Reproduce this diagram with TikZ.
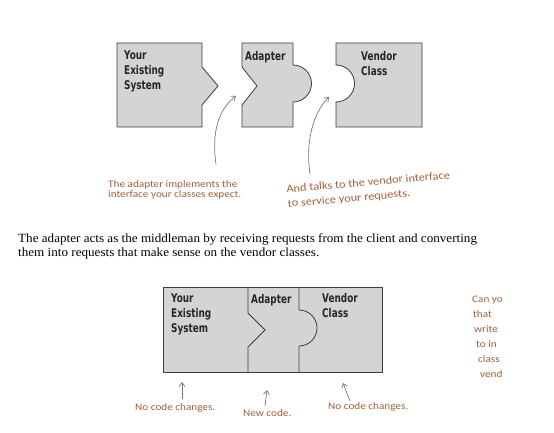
\documentclass[tikz,border=0pt]{standalone}
\usepackage{fontspec}
\setmainfont{Liberation Serif}
\newfontfamily\parafont[FakeStretch=1.05]{Liberation Serif}
\newfontfamily\boxfont[FakeStretch=0.74]{DejaVu Sans Bold}
\newfontfamily\handfont[FakeStretch=1.12]{Carlito}
\usetikzlibrary{arrows.meta}

\definecolor{boxgray}{RGB}{212,212,212}
\definecolor{edgegray}{RGB}{60,60,60}
\definecolor{handbrown}{RGB}{165,95,55}
\definecolor{arrowgray}{RGB}{120,120,120}

\tikzset{
  piece/.style={fill=boxgray, draw=edgegray, line width=0.8pt},
  divider/.style={draw=edgegray, line width=0.8pt},
  boxlabel/.style={anchor=north west, inner sep=0pt, align=left, text=black!85,
    font=\boxfont\fontsize{12}{15}\selectfont},
  note/.style={inner sep=0pt, align=left, text=handbrown,
    font=\handfont\fontsize{10}{10.5}\selectfont},
  pointer/.style={draw=arrowgray, line width=0.7pt, -{Straight Barb[length=4pt,width=6pt]}},
}

\begin{document}
\begin{tikzpicture}[x=1pt, y=-1pt]
\useasboundingbox (0,0) rectangle (554,433);

% --- oben: drei getrennte Teile ---
\filldraw[piece] (117,43) -- (202,43) -- (202,67) -- (218,86) -- (202,105)
  -- (202,127) -- (117,127) -- cycle;
\filldraw[piece] (242,43) -- (293,43) -- (293,65) arc[start angle=-90, end angle=90, radius=18.5]
  -- (293,127) -- (242,127) -- (242,105) -- (257,86) -- (242,67) -- cycle;
\filldraw[piece] (336,43) -- (422,43) -- (422,127) -- (336,127) -- (336,102)
  arc[start angle=90, end angle=-90, radius=18.5] -- cycle;

\node[boxlabel] (system) at (124,51) {Your\\Existing\\System};
\node[boxlabel] (adapter) at (245,51) {Adapter};
\node[boxlabel] (vendor) at (361,51) {Vendor\\Class};

% Hinweise mit Pfeilen
\node[note, anchor=north west] (implnote) at (108,180)
  {The adapter implements the\\interface your classes expect.};
\node[note, anchor=north west, rotate=5, font=\handfont\fontsize{11}{14.5}\selectfont]
  (vendnote) at (286,185) {And talks to the vendor interface\\to service your requests.};

\coordinate (impltail) at (216,164);
\coordinate (impltip) at (236,96);
\coordinate (vendtail) at (310,174);
\coordinate (vendtip) at (329,97);
\draw[pointer] (impltail) .. controls (211,130) and (220,108) .. (impltip);
\draw[pointer] (vendtail) .. controls (305,140) and (314,112) .. (vendtip);

% Absatz
\node[anchor=north west, inner sep=0pt, align=left, font=\parafont\fontsize{12.5}{13.5}\selectfont]
  (middleman) at (18,233.5)
  {The adapter acts as the middleman by receiving requests from the client and converting\\
   them into requests that make sense on the vendor classes.};

% --- unten: zusammengesetzt ---
\filldraw[piece] (163,287) rectangle (382,372);
\draw[divider] (248,287) -- (248,313) -- (265,330) -- (248,347) -- (248,372);
\draw[divider] (299,287) -- (299,310) arc[start angle=-90, end angle=90, radius=18] -- (299,372);

\node[boxlabel] (system2) at (171,294) {Your\\Existing\\System};
\node[boxlabel] (adapter2) at (251,294) {Adapter};
\node[boxlabel] (vendor2) at (322,293) {Vendor\\Class};

\node[note, anchor=base west] (nochange1) at (135,410) {No code changes.};
\node[note, anchor=base west] (newcode) at (243,416) {New code.};
\node[note, anchor=base west] (nochange2) at (328,409) {No code changes.};

\coordinate (tail1) at (182,399);
\coordinate (tip1) at (182,382);
\coordinate (tail2) at (265,406);
\coordinate (tip2) at (267,390);
\coordinate (tail3) at (350,401);
\coordinate (tip3) at (343,383);
\draw[pointer] (tail1) -- (tip1);
\draw[pointer] (tail2) -- (tip2);
\draw[pointer] (tail3) -- (tip3);

% rechter Rand, abgeschnitten
\begin{scope}
\clip (460,285) rectangle (503,395);
\node[note, anchor=north west, font=\handfont\fontsize{10}{15}\selectfont] (margin) at (472,296)
  {Can yo\\\hspace*{1pt}that\\\hspace*{2pt}write\\\hspace*{4pt}to in\\\hspace*{6pt}class\\\hspace*{8pt}vend};
\end{scope}

\end{tikzpicture}
\end{document}
